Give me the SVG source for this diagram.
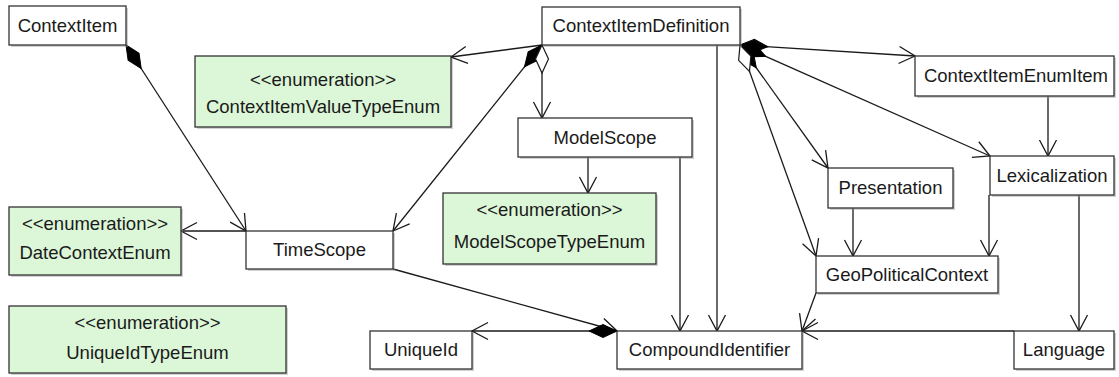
<svg xmlns="http://www.w3.org/2000/svg" width="1119" height="377" viewBox="0 0 1119 377">
<style>
.box{fill:#ffffff;stroke:#333333;stroke-width:1.3}
.enum{fill:#dcf6d8;stroke:#333333;stroke-width:1.3}
.sh{fill:#9a9a9a;opacity:0.45}
text{font-family:"Liberation Sans",Arial,sans-serif;font-size:18.5px;fill:#1a1a1a;text-anchor:middle}
.c{fill:none;stroke:#1a1a1a;stroke-width:1.3}
</style>
<defs>
<marker id="arr" markerUnits="userSpaceOnUse" markerWidth="20" markerHeight="20" viewBox="-17 -10 19 20" refX="0" refY="0" orient="auto">
<path d="M-16,-8.5 L0,0 L-16,8.5" fill="none" stroke="#1a1a1a" stroke-width="1.3"/>
</marker>
<marker id="comp" markerUnits="userSpaceOnUse" markerWidth="32" markerHeight="16" viewBox="-1 -8 32 16" refX="0" refY="0" orient="auto">
<path d="M0,0 L14,-6.5 L28,0 L14,6.5 Z" fill="#000000" stroke="#000000" stroke-width="1"/>
</marker>
<marker id="aggr" markerUnits="userSpaceOnUse" markerWidth="32" markerHeight="16" viewBox="-1 -8 32 16" refX="0" refY="0" orient="auto">
<path d="M0,0 L14,-6.5 L28,0 L14,6.5 Z" fill="#ffffff" stroke="#1a1a1a" stroke-width="1.2"/>
</marker>
</defs>

<g id="connectors">
<line class="c" x1="126" y1="45" x2="246" y2="231" marker-start="url(#comp)" marker-end="url(#arr)"/>
<line class="c" x1="542" y1="45" x2="451" y2="57" marker-end="url(#arr)"/>
<line class="c" x1="542" y1="45" x2="393" y2="231" marker-start="url(#comp)" marker-end="url(#arr)"/>
<line class="c" x1="542" y1="45" x2="542" y2="118" marker-start="url(#aggr)" marker-end="url(#arr)"/>
<line class="c" x1="717" y1="45" x2="717" y2="331" marker-end="url(#arr)"/>
<line class="c" x1="680" y1="157" x2="680" y2="331" marker-end="url(#arr)"/>
<line class="c" x1="588" y1="157" x2="588" y2="193" marker-end="url(#arr)"/>
<line class="c" x1="740" y1="45" x2="915" y2="56" marker-start="url(#comp)" marker-end="url(#arr)"/>
<line class="c" x1="740" y1="45" x2="990" y2="156" marker-start="url(#comp)" marker-end="url(#arr)"/>
<line class="c" x1="740" y1="45" x2="828" y2="168" marker-start="url(#comp)" marker-end="url(#arr)"/>
<line class="c" x1="740" y1="45" x2="816" y2="256" marker-start="url(#aggr)" marker-end="url(#arr)"/>
<line class="c" x1="246" y1="231" x2="181" y2="231" marker-end="url(#arr)"/>
<line class="c" x1="393" y1="269" x2="617" y2="331" marker-end="url(#arr)"/>
<line class="c" x1="617" y1="331" x2="472" y2="331" marker-start="url(#comp)" marker-end="url(#arr)"/>
<line class="c" x1="816" y1="293" x2="802" y2="331" marker-end="url(#arr)"/>
<line class="c" x1="1014" y1="331" x2="802" y2="331" marker-end="url(#arr)"/>
<line class="c" x1="853" y1="208" x2="853" y2="256" marker-end="url(#arr)"/>
<line class="c" x1="989" y1="195" x2="989" y2="256" marker-end="url(#arr)"/>
<line class="c" x1="1079" y1="195" x2="1079" y2="331" marker-end="url(#arr)"/>
<line class="c" x1="1048" y1="96" x2="1048" y2="156" marker-end="url(#arr)"/>
</g>

<g id="ContextItem"><rect class="sh" x="11" y="8" width="117" height="39"/><rect class="box" x="9" y="6" width="117" height="39"/><text x="67.5" y="32">ContextItem</text></g>
<g id="ContextItemValueTypeEnum"><rect class="sh" x="197" y="58" width="256" height="71"/><rect class="enum" x="195" y="56" width="256" height="71"/><text x="323" y="86">&lt;&lt;enumeration&gt;&gt;</text><text x="323" y="113">ContextItemValueTypeEnum</text></g>
<g id="ContextItemDefinition"><rect class="sh" x="544" y="9" width="198" height="38"/><rect class="box" x="542" y="7" width="198" height="38"/><text x="641" y="32">ContextItemDefinition</text></g>
<g id="ModelScope"><rect class="sh" x="520" y="120" width="174" height="39"/><rect class="box" x="518" y="118" width="174" height="39"/><text x="605" y="144">ModelScope</text></g>
<g id="ContextItemEnumItem"><rect class="sh" x="917" y="58" width="199" height="40"/><rect class="box" x="915" y="56" width="199" height="40"/><text x="1016" y="82">ContextItemEnumItem</text></g>
<g id="Lexicalization"><rect class="sh" x="992" y="158" width="124" height="39"/><rect class="box" x="990" y="156" width="124" height="39"/><text x="1052" y="182">Lexicalization</text></g>
<g id="Presentation"><rect class="sh" x="830" y="170" width="125" height="40"/><rect class="box" x="828" y="168" width="125" height="40"/><text x="890.5" y="194">Presentation</text></g>
<g id="GeoPoliticalContext"><rect class="sh" x="818" y="258" width="182" height="37"/><rect class="box" x="816" y="256" width="182" height="37"/><text x="907" y="281">GeoPoliticalContext</text></g>
<g id="Language"><rect class="sh" x="1016" y="333" width="100" height="38"/><rect class="box" x="1014" y="331" width="100" height="38"/><text x="1064" y="356">Language</text></g>
<g id="CompoundIdentifier"><rect class="sh" x="619" y="333" width="185" height="38"/><rect class="box" x="617" y="331" width="185" height="38"/><text x="709.5" y="356">CompoundIdentifier</text></g>
<g id="UniqueId"><rect class="sh" x="372" y="333" width="102" height="38"/><rect class="box" x="370" y="331" width="102" height="38"/><text x="421" y="356">UniqueId</text></g>
<g id="UniqueIdTypeEnum"><rect class="sh" x="11" y="308" width="277" height="67"/><rect class="enum" x="9" y="306" width="277" height="67"/><text x="147.5" y="329">&lt;&lt;enumeration&gt;&gt;</text><text x="147.5" y="359">UniqueIdTypeEnum</text></g>
<g id="DateContextEnum"><rect class="sh" x="11" y="209" width="172" height="68"/><rect class="enum" x="9" y="207" width="172" height="68"/><text x="95" y="230">&lt;&lt;enumeration&gt;&gt;</text><text x="95" y="259">DateContextEnum</text></g>
<g id="TimeScope"><rect class="sh" x="248" y="233" width="147" height="38"/><rect class="box" x="246" y="231" width="147" height="38"/><text x="319.5" y="256">TimeScope</text></g>
<g id="ModelScopeTypeEnum"><rect class="sh" x="445" y="195" width="213" height="71"/><rect class="enum" x="443" y="193" width="213" height="71"/><text x="549.5" y="216">&lt;&lt;enumeration&gt;&gt;</text><text x="549.5" y="248">ModelScopeTypeEnum</text></g>
</svg>
